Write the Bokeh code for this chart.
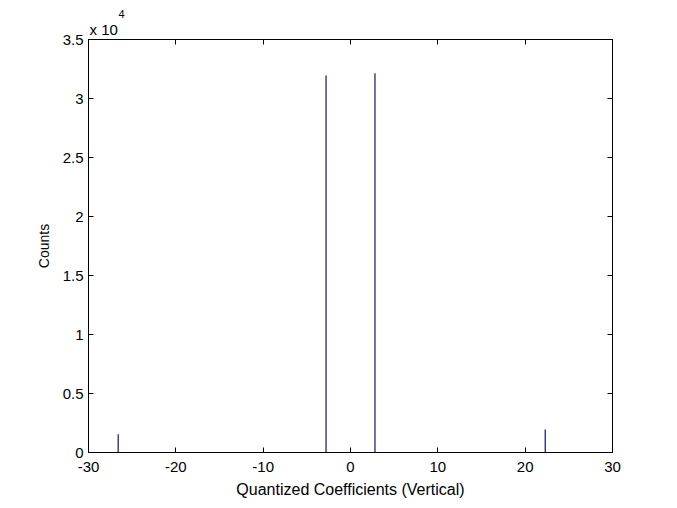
from bokeh.plotting import figure
from bokeh.models import Range1d, LinearAxis, FixedTicker, Title, ColumnDataSource, CustomLabelingPolicy
from bokeh.embed import file_html
from bokeh.resources import INLINE

# Data
coeffs = [-26.6, -2.8, 2.8, 22.3]
counts = [1550, 31950, 32150, 1950]
zeros = [0, 0, 0, 0]

x_ticks = [-30, -20, -10, 0, 10, 20, 30]
x_tick_labels = ["-30", "-20", "-10", "0", "10", "20", "30"]
y_ticks = [0, 5000, 10000, 15000, 20000, 25000, 30000, 35000]
y_tick_labels = ["0", "0.5", "1", "1.5", "2", "2.5", "3", "3.5"]

FONT = "Liberation Sans"
TICK_FS = "15px"
LABEL_FS = "16px"

p = figure(width=669, height=500, output_backend="svg", toolbar_location=None,
           x_range=Range1d(-30, 30), y_range=Range1d(0, 35000),
           min_border_left=88, min_border_right=57, min_border_top=39, min_border_bottom=48)
p.background_fill_color = "white"
p.border_fill_color = "white"
p.outline_line_color = "black"
p.grid.visible = False

src = ColumnDataSource(dict(x=coeffs, y0=zeros, y1=counts))
p.segment(x0="x", y0="y0", x1="x", y1="y1", source=src, line_color="#23237f", line_width=1.3)

def style(ax, fs=TICK_FS):
    ax.axis_line_color = "black"
    ax.axis_line_width = 1
    ax.major_tick_in = 5
    ax.major_tick_out = 0
    ax.major_tick_line_color = "black"
    ax.minor_tick_line_color = None
    ax.major_label_text_font = FONT
    ax.major_label_text_font_size = fs
    ax.major_label_text_color = "black"
    ax.axis_label_text_font = FONT
    ax.axis_label_text_font_size = LABEL_FS
    ax.axis_label_text_font_style = "normal"
    ax.axis_label_text_color = "black"

xa = p.xaxis[0]
xa.ticker = FixedTicker(ticks=x_ticks)
xa.major_label_overrides = {t: l for t, l in zip(x_ticks, x_tick_labels)}
xa.axis_label = "Quantized Coefficients (Vertical)"
xa.major_label_standoff = 9
xa.axis_label_standoff = 6
style(xa)

ya = p.yaxis[0]
ya.ticker = FixedTicker(ticks=y_ticks)
ya.major_label_overrides = {t: l for t, l in zip(y_ticks, y_tick_labels)}
ya.axis_label = "Counts"
ya.major_label_standoff = 5
ya.axis_label_standoff = 8
style(ya)
ya.axis_label_text_font_size = "14px"

top = LinearAxis(ticker=FixedTicker(ticks=x_ticks),
                 major_label_policy=CustomLabelingPolicy(code="return new Set()"))
style(top, fs="0px")
top.major_label_standoff = 0
p.add_layout(top, "above")
right = LinearAxis(ticker=FixedTicker(ticks=y_ticks),
                   major_label_policy=CustomLabelingPolicy(code="return new Set()"))
style(right, fs="0px")
right.major_label_standoff = 0
p.add_layout(right, "right")

p.add_layout(Title(text="x 10", align="left", offset=1, standoff=4,
                   text_font=FONT, text_font_size=TICK_FS, text_font_style="normal",
                   text_color="black"), "above")
p.add_layout(Title(text="4", align="left", offset=30, standoff=-2,
                   text_font=FONT, text_font_size="11px", text_font_style="normal",
                   text_color="black"), "above")

open("out.html", "w").write(file_html(p, INLINE))
